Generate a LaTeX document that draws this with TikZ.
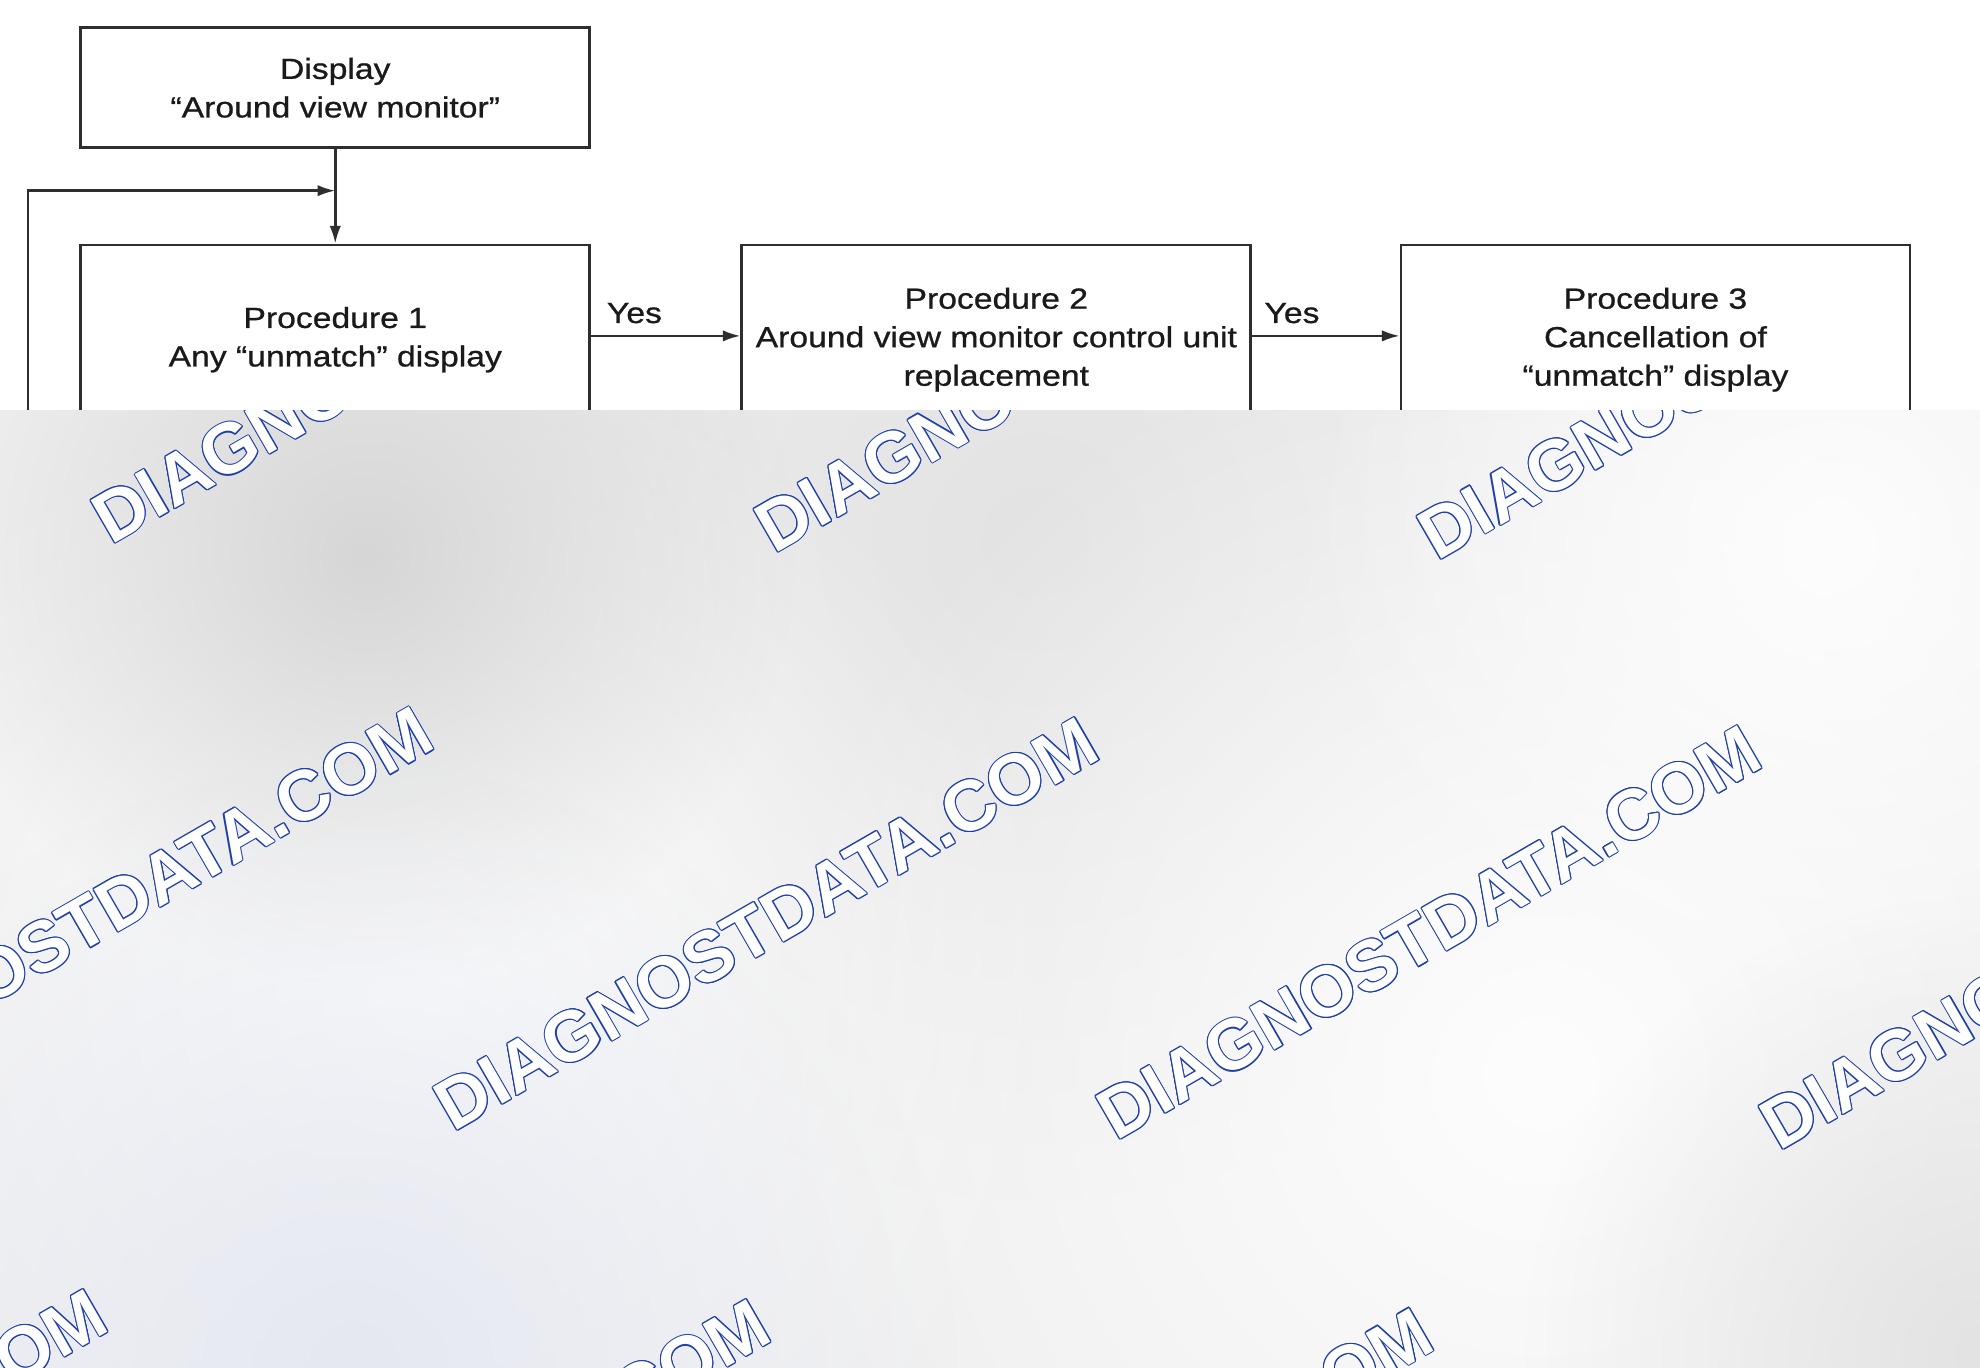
\documentclass[tikz,border=0pt]{standalone}
\usepackage{fontspec}
\setmainfont{Liberation Sans}[FakeStretch=1.16,FakeBold=0.8]
\newfontfamily\wmfamily{Liberation Sans}
\usetikzlibrary{arrows.meta,fadings}
\definecolor{ln}{HTML}{2E2E2E}
\definecolor{txt}{HTML}{1A1A1A}
\definecolor{wmblue}{HTML}{1E3FA8}
\definecolor{bgbase}{RGB}{239,239,239}
\definecolor{bgdark}{RGB}{214,214,214}
\definecolor{bgmid}{RGB}{227,227,228}
\definecolor{bglight}{RGB}{253,253,253}
\definecolor{bgblue}{RGB}{229,232,241}
\tikzfading[name=blobfade, inner color=transparent!0, outer color=transparent!100]
\newcommand\boxfont{\fontsize{23}{30.5}\selectfont}
\newcommand\wmfont{\wmfamily\bfseries\fontsize{56.5}{56.5}\selectfont}
\newcommand\wmark[2]{%
  \foreach \a in {0,30,...,330}{%
    \node[wmtext, text=wmblue, shift={(\a:0.85)}] (wm#1-\a) at (#2) {DIAGNOSTDATA.COM};}
  \node[wmtext, text=white] (wm#1) at (#2) {DIAGNOSTDATA.COM};}
\begin{document}
\begin{tikzpicture}[x=1pt,y=-1pt,
  box/.style={draw=ln, line width=2.2pt, rectangle, minimum width=403pt,
    text=txt, align=center, font=\boxfont, inner sep=0pt},
  arr/.style={draw=ln, line width=2pt, -{Latex[length=14pt,width=9pt]}},
  lbl/.style={text=txt, font=\boxfont, inner sep=0pt},
  blob/.style={path fading=blobfade},
  wmtext/.style={anchor=base west, rotate=30, inner sep=0pt, font=\wmfont}]
\useasboundingbox (0,0) rectangle (1568,1083);
\fill[white] (0,0) rectangle (1568,1083);

% flowchart
\node[box, minimum height=95pt] (disp) at (265.5,69.5) {Display\\“Around view monitor”};
\node[box, minimum height=150pt] (p1) at (265.5,269) {Procedure 1\\Any “unmatch” display};
\node[box, minimum height=150pt] (p2) at (789,269) {Procedure 2\\Around view monitor control unit\\replacement};
\node[box, minimum height=150pt] (p3) at (1311,269) {Procedure 3\\Cancellation of\\“unmatch” display};

\draw[arr] (disp.south) -- (p1.north);
\coordinate (lvl) at (0,151);
\coordinate (join) at (disp.south |- lvl);
\coordinate (fbend) at (22,345);
\draw[arr] (fbend) |- (join);
\coordinate (lvy) at (0,266);
\draw[arr] (p1.east |- lvy) -- node[lbl, above=9pt, pos=0.29] (yes1) {Yes} (p2.west |- lvy);
\draw[arr] (p2.east |- lvy) -- node[lbl, above=9pt, pos=0.27] (yes2) {Yes} (p3.west |- lvy);

% gray overlay with watermark
\begin{scope}
\clip (0,325) rectangle (1568,1083);
\fill[bgbase] (0,325) rectangle (1568,1083);
\fill[bgmid, blob] (820,430) circle (520);
\fill[bglight, blob] (1220,850) circle (620);
\fill[bglight, blob] (1450,430) circle (420);
\fill[bglight, blob] (330,790) circle (520);
\fill[bgdark, blob] (290,440) circle (340);
\fill[bgblue, blob] (280,1083) circle (480);
\fill[bgmid, blob] (1568,1070) circle (360);
\wmark{a}{88,432}
\wmark{b}{613,439}
\wmark{c}{1138,445}
\wmark{d}{-168,889}
\wmark{e}{359,897}
\wmark{f}{884,904}
\wmark{g}{1409,912}
\wmark{h}{-426,1350}
\wmark{i}{99,1358}
\wmark{j}{624,1365}
\end{scope}
\end{tikzpicture}
\end{document}
